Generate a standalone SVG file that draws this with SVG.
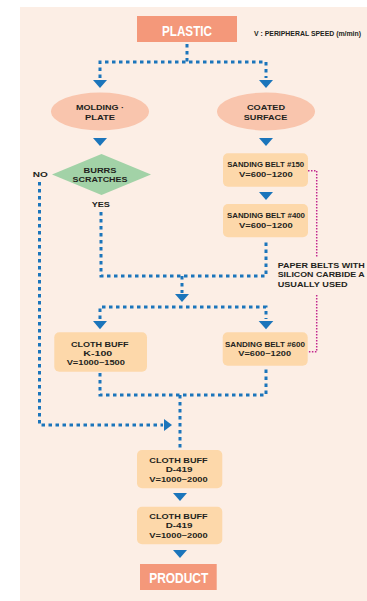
<svg xmlns="http://www.w3.org/2000/svg" width="367" height="601" viewBox="0 0 367 601">
<defs>
<style>
.t{font-family:"Liberation Sans",Arial,sans-serif;font-weight:bold;fill:#231F20;text-anchor:middle;font-size:8px}
.tl{font-family:"Liberation Sans",Arial,sans-serif;font-weight:bold;fill:#231F20;font-size:8px}
.big{font-family:"Liberation Sans",Arial,sans-serif;font-weight:bold;fill:#ffffff;text-anchor:middle;font-size:15px}
.box{fill:#FDD8AA}
.ell{fill:#F9C5AD}
.term{fill:#F4987A}
.dot{fill:none;stroke:#1B75BB;stroke-width:3;stroke-dasharray:3.5 3.5}
.pink{fill:none;stroke:#C2268E;stroke-width:1.5;stroke-dasharray:1.5 1.5}
.arr{fill:#1B75BB}
</style>
</defs>
<rect x="20" y="7" width="347" height="594" fill="#FCEEE5"/>
<g id="connectors">
<path class="dot" d="M187,44 V62"/>
<path class="dot" d="M100,78 V62 H266 V78"/>
<polygon class="arr" points="93,80 107,80 100,88"/>
<polygon class="arr" points="259,80 273,80 266,88"/>
<polygon class="arr" points="93,138 107,138 100,146"/>
<polygon class="arr" points="259,138 273,138 266,146"/>
<polygon class="arr" points="259,192 273,192 266,200"/>
<path class="dot" d="M101,212 V276 H266 V240"/>
<path class="dot" d="M182,276 V293"/>
<polygon class="arr" points="175,294 189,294 182,302"/>
<path class="dot" d="M100,319 V307 H266 V319"/>
<polygon class="arr" points="93,321 107,321 100,329.3"/>
<polygon class="arr" points="258.7,321 273.3,321 266,329.3"/>
<path class="dot" d="M39.5,182 V425 H163"/>
<polygon class="arr" points="164,419 164,431 172,425"/>
<path class="dot" d="M100,373 V395 H266 V368"/>
<path class="dot" d="M180,395 V448"/>
<polygon class="arr" points="173,493 187,493 180,501"/>
<polygon class="arr" points="173,550 187,550 180,558"/>
<path class="pink" d="M308,170.7 H316.7 V257"/>
<path class="pink" d="M316.7,295 V351.7 H308"/>
</g>
<g id="plastic">
<rect class="term" x="137" y="16" width="100" height="26"/>
<text class="big" x="187" y="36" textLength="50" lengthAdjust="spacingAndGlyphs">PLASTIC</text>
</g>
<g id="legend">
<text class="tl" x="254" y="36" style="font-size:7px" textLength="107" lengthAdjust="spacingAndGlyphs">V : PERIPHERAL SPEED (m/min)</text>
</g>
<g id="molding">
<ellipse class="ell" cx="100" cy="111.5" rx="49" ry="19"/>
<text class="t" x="100" y="110" textLength="48" lengthAdjust="spacingAndGlyphs">MOLDING ·</text>
<text class="t" x="100" y="119.5" textLength="30" lengthAdjust="spacingAndGlyphs">PLATE</text>
</g>
<g id="coated">
<ellipse class="ell" cx="266" cy="111.5" rx="49" ry="19"/>
<text class="t" x="266" y="110" textLength="38" lengthAdjust="spacingAndGlyphs">COATED</text>
<text class="t" x="265.5" y="119.5" textLength="43.5" lengthAdjust="spacingAndGlyphs">SURFACE</text>
</g>
<g id="burrs">
<polygon points="52,174.5 101.5,154 151,174.5 101.5,195" fill="#A2D2A7"/>
<text class="t" x="100" y="172.7" textLength="33" lengthAdjust="spacingAndGlyphs">BURRS</text>
<text class="t" x="100" y="181.7" textLength="55" lengthAdjust="spacingAndGlyphs">SCRATCHES</text>
</g>
<g id="no-label"><text class="tl" x="32.7" y="177" textLength="15" lengthAdjust="spacingAndGlyphs">NO</text></g>
<g id="yes-label"><text class="t" x="100.8" y="206.7" textLength="18.3" lengthAdjust="spacingAndGlyphs">YES</text></g>
<g id="sb150">
<rect class="box" x="223" y="153.3" width="85" height="33.4" rx="5"/>
<text class="t" x="265.7" y="167.3" textLength="77" lengthAdjust="spacingAndGlyphs">SANDING BELT #150</text>
<text class="t" x="265.8" y="176.7" textLength="53.7" lengthAdjust="spacingAndGlyphs">V=600~1200</text>
</g>
<g id="sb400">
<rect class="box" x="223" y="204" width="85" height="33.3" rx="5"/>
<text class="t" x="266" y="218.3" textLength="78" lengthAdjust="spacingAndGlyphs">SANDING BELT #400</text>
<text class="t" x="265.8" y="228.3" textLength="53.7" lengthAdjust="spacingAndGlyphs">V=600~1200</text>
</g>
<g id="note">
<text class="tl" x="277.7" y="267.7" textLength="87" lengthAdjust="spacingAndGlyphs">PAPER BELTS WITH</text>
<text class="tl" x="277.7" y="277.2" textLength="87" lengthAdjust="spacingAndGlyphs">SILICON CARBIDE A</text>
<text class="tl" x="277.7" y="287" textLength="70" lengthAdjust="spacingAndGlyphs">USUALLY USED</text>
</g>
<g id="k100">
<rect class="box" x="54.3" y="332.3" width="92.7" height="39.4" rx="5"/>
<text class="t" x="99.8" y="346.7" textLength="57.7" lengthAdjust="spacingAndGlyphs">CLOTH BUFF</text>
<text class="t" x="97.8" y="355.5" textLength="29" lengthAdjust="spacingAndGlyphs">K-100</text>
<text class="t" x="95.8" y="365" textLength="58.3" lengthAdjust="spacingAndGlyphs">V=1000~1500</text>
</g>
<g id="sb600">
<rect class="box" x="222.7" y="332.3" width="85" height="33.4" rx="5"/>
<text class="t" x="265" y="346.7" textLength="80" lengthAdjust="spacingAndGlyphs">SANDING BELT #600</text>
<text class="t" x="264.7" y="356" textLength="52.7" lengthAdjust="spacingAndGlyphs">V=600~1200</text>
</g>
<g id="d419a">
<rect class="box" x="137" y="450" width="85.3" height="38.3" rx="5"/>
<text class="t" x="178.5" y="462.7" textLength="58.3" lengthAdjust="spacingAndGlyphs">CLOTH BUFF</text>
<text class="t" x="179" y="471.7" textLength="26.7" lengthAdjust="spacingAndGlyphs">D-419</text>
<text class="t" x="178.5" y="481.7" textLength="58.3" lengthAdjust="spacingAndGlyphs">V=1000~2000</text>
</g>
<g id="d419b">
<rect class="box" x="137" y="506.7" width="85.3" height="37.6" rx="5"/>
<text class="t" x="178.5" y="519" textLength="58.3" lengthAdjust="spacingAndGlyphs">CLOTH BUFF</text>
<text class="t" x="179" y="528.3" textLength="26.7" lengthAdjust="spacingAndGlyphs">D-419</text>
<text class="t" x="178.5" y="537.7" textLength="58.3" lengthAdjust="spacingAndGlyphs">V=1000~2000</text>
</g>
<g id="product">
<rect class="term" x="140" y="564" width="76.7" height="26"/>
<text class="big" x="178.7" y="582.7" textLength="59" lengthAdjust="spacingAndGlyphs">PRODUCT</text>
</g>
</svg>
